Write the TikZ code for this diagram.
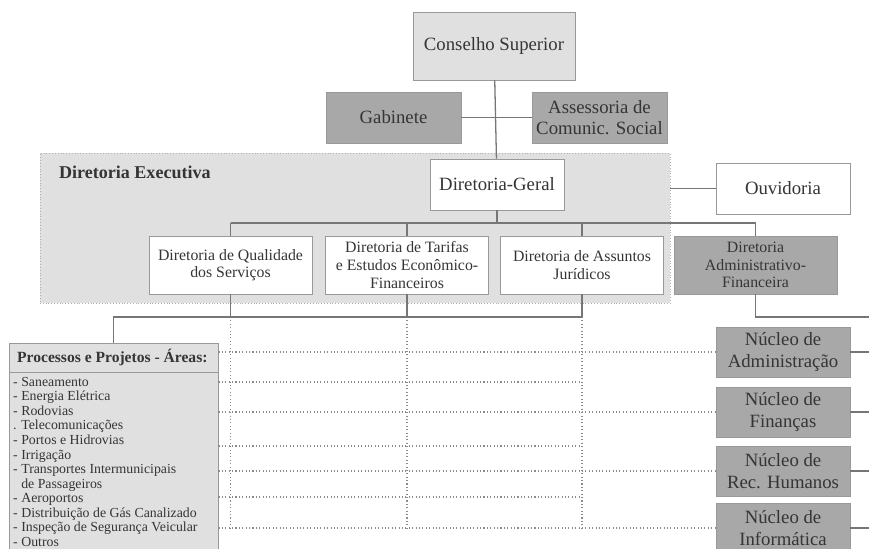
\documentclass[tikz,border=0pt]{standalone}
\usepackage{fontspec}
\setmainfont{Liberation Serif}
\definecolor{lite}{HTML}{E0E0E0}
\definecolor{dark}{HTML}{A8A8A8}
\definecolor{ink}{HTML}{353535}
\definecolor{rule}{HTML}{767676}

\begin{document}
\begin{tikzpicture}[x=0.03cm,y=-0.03cm]
  \useasboundingbox (0,0) rectangle (869,548);
  \clip (0,0) rectangle (869,548);

  \tikzstyle{Box}=[draw=black!40,line width=0.8pt,fill=white,text=ink,align=center,
    inner sep=0pt,font=\fontsize{16}{18.5}\selectfont,minimum width=4.02cm,minimum height=1.53cm]
  \tikzstyle{Small}=[Box,font=\fontsize{13.5}{15}\selectfont,minimum width=4.89cm,minimum height=1.74cm]
  \tikzstyle{Line}=[draw=rule,line width=1.1pt]
  \tikzstyle{Dots}=[draw=rule!85,line width=0.9pt,dotted]

  % region of the executive board
  \node[fill=lite,draw=black!30,dotted,minimum width=18.9cm,minimum height=4.5cm] (exec) at (355,228) {};
  \node[anchor=west,text=ink,font=\fontsize{15.4}{18}\selectfont\bfseries] (exlabel) at (55,172) {Diretoria Executiva};

  \node[Box,fill=lite,minimum width=4.86cm,minimum height=2.04cm] (cons) at (494,46) {Conselho Superior};
  \node[Box,fill=dark,minimum width=4.05cm] (gab) at (393.5,117.5) {Gabinete};
  \node[Box,fill=dark,minimum width=4.05cm] (ass) at (599.5,117.5) {Assessoria de\\Comunic. Social};
  \node[Box] (dg) at (497,184.5) {Diretoria-Geral};
  \node[Box] (ouv) at (783,188.5) {Ouvidoria};

  \node[Small] (q) at (230.5,265) {Diretoria de Qualidade\\dos Serviços};
  \node[Small] (t) at (407,265) {Diretoria de Tarifas\\e Estudos Econômico-\\Financeiros};
  \node[Small] (j) at (582,265) {Diretoria de Assuntos\\Jurídicos};
  \node[Small,fill=dark] (af) at (755.5,265) {Diretoria\\Administrativo-\\Financeira};

  \node[Box,fill=dark,minimum height=1.5cm] (nadm) at (783,352) {Núcleo de\\Administração};
  \node[Box,fill=dark,minimum height=1.5cm] (nfin) at (783,412) {Núcleo de\\Finanças};
  \node[Box,fill=dark,minimum height=1.5cm] (nrh) at (783,471) {Núcleo de\\Rec. Humanos};
  \node[Box,fill=dark,minimum height=1.5cm] (ninf) at (783,528) {Núcleo de\\Informática};

  \node[Box,fill=lite,minimum width=6.27cm,minimum height=6.9cm] (proc) at (113.5,458) {};
  \draw[draw=black!40,line width=0.8pt] (proc.west |- 0,372) -- (proc.east |- 0,372);
  \node[anchor=west,text=ink,font=\fontsize{13.3}{15}\selectfont\bfseries] (proctitle) at (13,357)
    {Processos e Projetos - Áreas:};
  \node[anchor=north west,align=left,inner sep=0pt,text=ink,font=\fontsize{11.8}{12.4}\selectfont] (areas) at (13,377)
    {- Saneamento\\- Energia Elétrica\\- Rodovias\\. Telecomunicações\\- Portos e Hidrovias\\- Irrigação\\
     - Transportes Intermunicipais\\\phantom{- }de Passageiros\\- Aeroportos\\- Distribuição de Gás Canalizado\\
     - Inspeção de Segurança Veicular\\- Outros};

  \coordinate (bus) at (0,223);
  \coordinate (lbus) at (0,317);
  \coordinate (redge) at (880,0);

  \draw[Line] (cons) -- (dg);
  \draw[Line] (gab) -- (ass);
  \draw[Line] (exec.east |- ouv.west) -- (ouv.west);
  \draw[Line] (dg.south) -- (dg.south |- bus);
  \draw[Line] (q.north |- bus) -- (af.north |- bus);
  \foreach \n in {q,t,j,af}
    \draw[Line] (\n.north |- bus) -- (\n.north);
  \foreach \n in {q,t,j}{
    \draw[Line] (\n.south) -- (\n.south |- lbus);
    \draw[Dots] (\n.south |- lbus) -- (\n.south |- 0,529);
  }
  \draw[Line] (proc.north) -- (proc.north |- lbus) -- (j.south |- lbus);
  \draw[Line] (af.south) -- (af.south |- lbus) -- (redge |- lbus);
  \foreach \n in {nadm,nfin,nrh,ninf}{
    \draw[Line] (\n.east) -- (\n.east -| redge);
    \draw[Dots] (proc.east |- \n.west) -- (\n.west);
  }
  \foreach \y in {382,446,497}
    \draw[Dots] (proc.east |- 0,\y) -- (j.south |- 0,\y);

\end{tikzpicture}
\end{document}
